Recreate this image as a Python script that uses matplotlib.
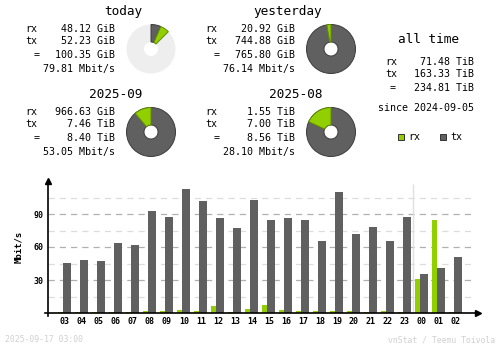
import numpy as np
import matplotlib.pyplot as plt
from matplotlib.patches import Wedge, Rectangle

# hourly averages, Mbit/s
hours = ["03", "04", "05", "06", "07", "08", "09", "10", "11", "12", "13", "14",
         "15", "16", "17", "18", "19", "20", "21", "22", "23", "00", "01", "02"]
rx_rate = [1.2, 1.2, 1.2, 1.2, 1.2, 2.1, 2.1, 3.0, 2.1, 6.7, 1.2, 3.9,
           7.6, 3.0, 2.1, 2.1, 2.1, 2.1, 1.2, 2.1, 1.2, 31.2, 84.8, 1.2]
tx_rate = [45.8, 48.5, 47.6, 63.9, 62.1, 93.0, 87.6, 113.0, 102.1, 86.7, 77.6, 103.0,
           84.8, 86.7, 84.8, 65.8, 110.3, 72.1, 78.5, 65.8, 87.6, 35.8, 41.2, 51.2]
y_ticks = [30, 60, 90]
y_minor = [15, 45, 75, 105]

# summary blocks: title, rx, tx, total, rate (GiB for pie fractions)
periods = ["today", "yesterday", "2025-09", "2025-08"]
rx_txt = ["48.12 GiB", "20.92 GiB", "966.63 GiB", "1.55 TiB"]
tx_txt = ["52.23 GiB", "744.88 GiB", "7.46 TiB", "7.00 TiB"]
tot_txt = ["100.35 GiB", "765.80 GiB", "8.40 TiB", "8.56 TiB"]
rate_txt = ["79.81 Mbit/s", "76.14 Mbit/s", "53.05 Mbit/s", "28.10 Mbit/s"]
rx_gib = [48.12, 20.92, 966.63, 1.55 * 1024]
tx_gib = [52.23, 744.88, 7.46 * 1024, 7.00 * 1024]
day_done = 3 / 24  # 03:00

alltime = ["71.48 TiB", "163.33 TiB", "234.81 TiB"]
since = "since 2024-09-05"
stamp = "2025-09-17 03:00"

RX = "#92cf00"
TX = "#606060"
MONO = "DejaVu Sans Mono"

fig = plt.figure(figsize=(5, 3.48), dpi=100)

# ---- hourly bar chart ----
ax = fig.add_axes([48 / 500, 35 / 348, 430 / 500, 132 / 348])
x = np.arange(len(hours))
ax.set_xlim(-1, 24.3)
ax.set_ylim(0, 120)
for v in y_minor:
    ax.hlines(v, -1, 24, colors="#dddddd", linestyles=(0, (5, 4)), lw=0.9, zorder=0)
for v in y_ticks:
    ax.hlines(v, -1, 24, colors="#b0b0b0", linestyles=(0, (5, 4)), lw=0.9, zorder=0)
ax.vlines(20.5, 0, 117, colors="#e0e0e0", lw=1, zorder=0)
ax.bar(x - 0.265, rx_rate, width=0.3, color=RX, zorder=2)
ax.bar(x + 0.118, tx_rate, width=0.47, color=TX, zorder=2)

# axes lines with arrow heads
ax.plot([-1.18, 24.3], [0, 0], color="black", lw=1.2, clip_on=False, zorder=3)
ax.plot([24.3], [0], marker=">", color="black", ms=4, clip_on=False, zorder=3)
ax.plot([-1, -1], [-2.7, 120], color="black", lw=1.2, clip_on=False, zorder=3)
ax.plot([-1], [120], marker="^", color="black", ms=4, clip_on=False, zorder=3)

for s in ax.spines.values():
    s.set_visible(False)
ax.set_xticks(x)
ax.set_xticklabels(hours, fontsize=6, family=MONO, fontweight="bold")
ax.set_yticks(y_ticks)
ax.set_yticklabels([str(v) for v in y_ticks], fontsize=6, family=MONO, fontweight="bold")
ax.tick_params(length=0, pad=3)
ax.set_ylabel("Mbit/s", fontsize=6.5, family=MONO, fontweight="bold", labelpad=8)

# ---- summary overlay in pixel coords ----
ov = fig.add_axes([0, 0, 1, 1], zorder=-1)
ov.set_xlim(0, 500)
ov.set_ylim(348, 0)
ov.axis("off")


def donut(cx, cy, parts, bg=None):
    r, hole = 24.5, 7
    if bg:
        ov.add_patch(Wedge((cx, cy), r, 0, 360, width=r - hole, fc=bg, ec="none"))
    for t1, t2, c, e in parts:
        ov.add_patch(Wedge((cx, cy), r, t1, t2, width=r - hole, fc=c, ec=e, lw=0.7))


offs = [(0, 0), (180, 0), (0, 83), (180, 83)]
for i, (dx, dy) in enumerate(offs):
    ov.text(142 + dx, 12 + dy, periods[i], ha="right", va="center", fontsize=9.2, family=MONO)
    ov.text(25 + dx, 29.3 + dy, "rx", ha="left", va="center", fontsize=7.2, family=MONO)
    ov.text(25 + dx, 41.3 + dy, "tx", ha="left", va="center", fontsize=7.2, family=MONO)
    ov.text(37 + dx, 54.7 + dy, "=", ha="center", va="center", fontsize=7.2, family=MONO)
    ov.text(115 + dx, 29.3 + dy, rx_txt[i], ha="right", va="center", fontsize=7.2, family=MONO)
    ov.text(115 + dx, 41.3 + dy, tx_txt[i], ha="right", va="center", fontsize=7.2, family=MONO)
    ov.text(115 + dx, 54.7 + dy, tot_txt[i], ha="right", va="center", fontsize=7.2, family=MONO)
    ov.text(115 + dx, 69.3 + dy, rate_txt[i], ha="right", va="center", fontsize=7.2, family=MONO)

    cx, cy = 151 + dx, 49 + dy
    tot = rx_gib[i] + tx_gib[i]
    if i == 0:
        # today: share of the day so far, tx then rx clockwise from the top
        span = 360 * day_done
        t = span * tx_gib[i] / tot
        r = span * rx_gib[i] / tot
        donut(cx, cy, [(-90, -90 + t, TX, "#3c3c3c"),
                       (-90 + t, -90 + t + r, RX, "#5e8a00")], bg="#eeeeee")
    else:
        d = 360 * rx_gib[i] / tot
        donut(cx, cy, [(0, 360, TX, "#3c3c3c"),
                       (-90 - d, -90, RX, "#5e8a00")])

# all time block
ov.text(429, 39.3, "all time", ha="center", va="center", fontsize=9.2, family=MONO)
for lab, val, yy in zip(["rx", "tx"], alltime[:2], [62, 74]):
    ov.text(385, yy, lab, ha="left", va="center", fontsize=7.2, family=MONO)
    ov.text(474, yy, val, ha="right", va="center", fontsize=7.2, family=MONO)
ov.text(392.7, 88, "=", ha="center", va="center", fontsize=7.2, family=MONO)
ov.text(474, 88, alltime[2], ha="right", va="center", fontsize=7.2, family=MONO)
ov.text(426, 108, since, ha="center", va="center", fontsize=7.2, family=MONO)

# legend
ov.add_patch(Rectangle((398, 133.5), 6, 6, fc=RX, ec="#333333", lw=0.7))
ov.text(408, 136.7, "rx", ha="left", va="center", fontsize=7.2, family=MONO)
ov.add_patch(Rectangle((440, 133.5), 6, 6, fc=TX, ec="#333333", lw=0.7))
ov.text(450, 136.7, "tx", ha="left", va="center", fontsize=7.2, family=MONO)

# footer
ov.text(5, 340, stamp, ha="left", va="center", fontsize=5.9, family=MONO, color="#d0d0d0")
ov.text(495, 340, "vnStat / Teemu Toivola", ha="right", va="center", fontsize=5.9,
        family=MONO, color="#d0d0d0")

fig.savefig("out.png", dpi=100)
